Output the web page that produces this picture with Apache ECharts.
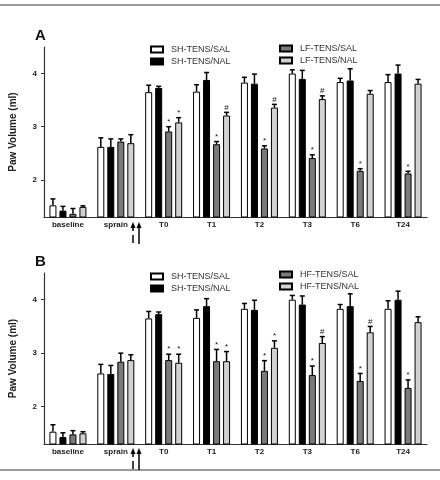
<!DOCTYPE html>
<html>
<head>
<meta charset="utf-8">
<script src="https://cdn.jsdelivr.net/npm/echarts@6/dist/echarts.min.js"></script>
<style>
  html, body { margin: 0; padding: 0; background: #fff; }
  #main { width: 440px; height: 480px; }
</style>
</head>
<body>
<div id="main"></div>
<script>
var myChart = echarts.init(document.getElementById('main'));

// Time points
const categories = ['baseline', 'sprain', 'T0', 'T1', 'T2', 'T3', 'T6', 'T24'];
const yTicks = [2, 3, 4];

// Panel A: means, SEM and significance marks
const shSalA = [1.52, 2.62, 3.65, 3.66, 3.83, 4.00, 3.84, 3.84];
const shSalAErr = [0.12, 0.17, 0.13, 0.13, 0.10, 0.07, 0.07, 0.14];
const shNalA = [1.42, 2.62, 3.73, 3.88, 3.81, 3.90, 3.87, 4.00];
const shNalAErr = [0.08, 0.15, 0.03, 0.14, 0.18, 0.16, 0.22, 0.16];
const lfSalA = [1.36, 2.72, 2.91, 2.67, 2.59, 2.41, 2.17, 2.12];
const lfSalAErr = [0.10, 0.05, 0.09, 0.05, 0.05, 0.06, 0.04, 0.04];
const lfNalA = [1.49, 2.69, 3.08, 3.21, 3.36, 3.52, 3.62, 3.81];
const lfNalAErr = [0.02, 0.16, 0.09, 0.06, 0.06, 0.06, 0.06, 0.08];
const lfSalAMarks = ['', '', '*', '*', '*', '*', '*', '*'];
const lfNalAMarks = ['', '', '*', '#', '#', '#', '', ''];

// Panel B
const shSalB = [1.53, 2.62, 3.65, 3.66, 3.83, 4.00, 3.83, 3.83];
const shSalBErr = [0.13, 0.17, 0.13, 0.15, 0.10, 0.08, 0.08, 0.15];
const shNalB = [1.43, 2.61, 3.73, 3.88, 3.81, 3.91, 3.88, 4.00];
const shNalBErr = [0.08, 0.16, 0.04, 0.14, 0.18, 0.16, 0.23, 0.16];
const hfSalB = [1.48, 2.84, 2.87, 2.85, 2.67, 2.59, 2.48, 2.35];
const hfSalBErr = [0.07, 0.16, 0.11, 0.22, 0.19, 0.17, 0.14, 0.15];
const hfNalB = [1.50, 2.87, 2.82, 2.85, 3.10, 3.19, 3.39, 3.58];
const hfNalBErr = [0.03, 0.10, 0.16, 0.18, 0.13, 0.12, 0.11, 0.10];
const hfSalBMarks = ['', '', '*', '*', '*', '*', '*', '*'];
const hfNalBMarks = ['', '', '*', '*', '*', '#', '#', ''];

const BAR_W = 7;
const STEP = 10; // bar width + gap
const fills = ['#ffffff', '#000000', '#7a7a7a', '#d2d2d2'];
const font = 'Liberation Sans, Arial, sans-serif';

function barSeries(name, data, k, axis) {
    return {
        name: name,
        type: 'bar',
        xAxisIndex: axis,
        yAxisIndex: axis,
        data: data,
        barWidth: BAR_W,
        barGap: '43%',
        itemStyle: { color: fills[k], borderColor: '#000', borderWidth: 1 },
        z: 2
    };
}

// error bars (upper only) + significance marks
function errSeries(vals, errs, marks, k, axis) {
    return {
        type: 'custom',
        xAxisIndex: axis,
        yAxisIndex: axis,
        silent: true,
        z: 3,
        data: vals.map((v, i) => [i, v, errs[i]]),
        renderItem: function (params, api) {
            var i = api.value(0);
            var v = api.value(1);
            var base = api.coord([i, v]);
            var top = api.coord([i, v + api.value(2)]);
            var x = base[0] + (k - 1.5) * STEP;
            var kids = [
                { type: 'line', shape: { x1: x, y1: base[1], x2: x, y2: top[1] }, style: { stroke: '#000', lineWidth: 1.5 } },
                { type: 'line', shape: { x1: x - 2.5, y1: top[1], x2: x + 2.5, y2: top[1] }, style: { stroke: '#000', lineWidth: 1.5 } }
            ];
            var m = marks ? marks[params.dataIndex] : '';
            if (m) {
                kids.push({
                    type: 'text', x: x, y: top[1] - 1,
                    style: { text: m, align: 'center', verticalAlign: 'bottom', fontSize: 8, fontFamily: font, fill: '#111' }
                });
            }
            return { type: 'group', children: kids };
        }
    };
}

function xAxisCfg(idx) {
    return {
        type: 'category',
        gridIndex: idx,
        data: categories,
        axisLine: { lineStyle: { color: '#333', width: 1.2 } },
        axisTick: { alignWithLabel: true, length: 3, lineStyle: { color: '#333' } },
        axisLabel: { fontSize: 8, fontWeight: 'bold', color: '#222', margin: 4, fontFamily: font }
    };
}

function yAxisCfg(idx) {
    return {
        type: 'value',
        gridIndex: idx,
        min: 1.3,
        max: 4.5,
        name: 'Paw Volume (ml)',
        nameLocation: 'middle',
        nameGap: 26,
        nameTextStyle: { fontSize: 10, fontWeight: 'bold', color: '#222', fontFamily: font },
        axisLine: { show: true, lineStyle: { color: '#333', width: 1.2 } },
        axisTick: { show: true, length: 3, customValues: yTicks, lineStyle: { color: '#333' } },
        axisLabel: { fontSize: 8, fontWeight: 'bold', color: '#222', margin: 7, customValues: yTicks, fontFamily: font },
        splitLine: { show: false }
    };
}

function legendCfg(names, left, top) {
    return {
        data: names,
        orient: 'vertical',
        left: left,
        top: top,
        icon: 'rect',
        itemWidth: 12,
        itemHeight: 6,
        itemGap: 3,
        selectedMode: false,
        textStyle: { fontSize: 9, color: '#333', fontFamily: font, padding: [0, 0, 0, 3] }
    };
}

function arrows(dy) {
    return [
        { type: 'polygon', shape: { points: [[133, 222 + dy], [130.5, 228 + dy], [135.5, 228 + dy]] }, style: { fill: '#000' } },
        { type: 'line', shape: { x1: 133, y1: 227 + dy, x2: 133, y2: 231 + dy }, style: { stroke: '#000', lineWidth: 1.5 } },
        { type: 'line', shape: { x1: 133, y1: 235 + dy, x2: 133, y2: 243 + dy }, style: { stroke: '#000', lineWidth: 1.5 } },
        { type: 'polygon', shape: { points: [[139, 222 + dy], [136.5, 228 + dy], [141.5, 228 + dy]] }, style: { fill: '#000' } },
        { type: 'line', shape: { x1: 139, y1: 227 + dy, x2: 139, y2: 244 + dy }, style: { stroke: '#000', lineWidth: 1.5 } }
    ];
}

var option = {
    animation: false,
    backgroundColor: '#fff',
    title: [
        { text: 'A', left: 30, top: 23, textStyle: { fontSize: 15, fontWeight: 'bold', color: '#111', fontFamily: font } },
        { text: 'B', left: 30, top: 249, textStyle: { fontSize: 15, fontWeight: 'bold', color: '#111', fontFamily: font } }
    ],
    legend: [
        legendCfg(['SH-TENS/SAL', 'SH-TENS/NAL'], 145, 40),
        legendCfg(['LF-TENS/SAL', 'LF-TENS/NAL'], 274, 39),
        legendCfg(['SH-TENS/SAL', 'SH-TENS/NAL'], 145, 267),
        legendCfg(['HF-TENS/SAL', 'HF-TENS/NAL'], 274, 265)
    ],
    grid: [
        { left: 40, right: 13, top: 47, height: 170 },
        { left: 40, right: 13, top: 273, height: 171 }
    ],
    xAxis: [xAxisCfg(0), xAxisCfg(1)],
    yAxis: [yAxisCfg(0), yAxisCfg(1)],
    graphic: [
        { type: 'line', shape: { x1: 0, y1: 5, x2: 440, y2: 5 }, style: { stroke: '#9a9a9a', lineWidth: 2 } },
        { type: 'line', shape: { x1: 0, y1: 470, x2: 440, y2: 470 }, style: { stroke: '#9a9a9a', lineWidth: 2 } }
    ].concat(arrows(0), arrows(226)),
    series: [
        barSeries('SH-TENS/SAL', shSalA, 0, 0),
        barSeries('SH-TENS/NAL', shNalA, 1, 0),
        barSeries('LF-TENS/SAL', lfSalA, 2, 0),
        barSeries('LF-TENS/NAL', lfNalA, 3, 0),
        errSeries(shSalA, shSalAErr, null, 0, 0),
        errSeries(shNalA, shNalAErr, null, 1, 0),
        errSeries(lfSalA, lfSalAErr, lfSalAMarks, 2, 0),
        errSeries(lfNalA, lfNalAErr, lfNalAMarks, 3, 0),
        barSeries('SH-TENS/SAL', shSalB, 0, 1),
        barSeries('SH-TENS/NAL', shNalB, 1, 1),
        barSeries('HF-TENS/SAL', hfSalB, 2, 1),
        barSeries('HF-TENS/NAL', hfNalB, 3, 1),
        errSeries(shSalB, shSalBErr, null, 0, 1),
        errSeries(shNalB, shNalBErr, null, 1, 1),
        errSeries(hfSalB, hfSalBErr, hfSalBMarks, 2, 1),
        errSeries(hfNalB, hfNalBErr, hfNalBMarks, 3, 1)
    ]
};

myChart.setOption(option);
</script>
</body>
</html>
